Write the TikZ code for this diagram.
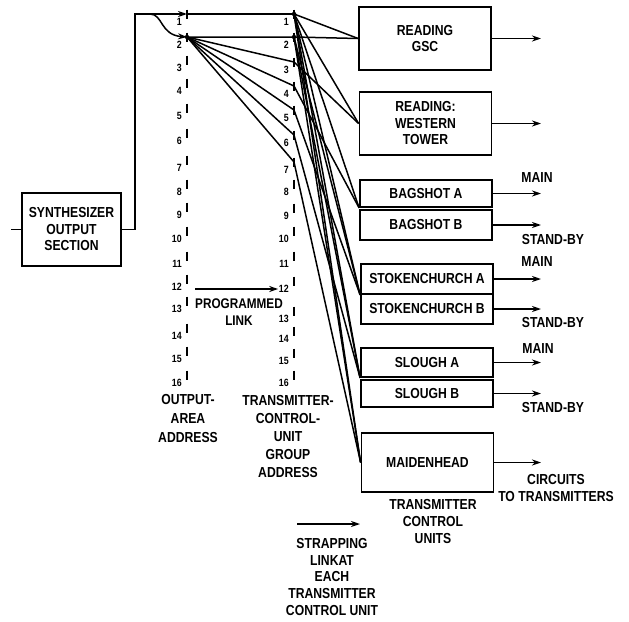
\documentclass[tikz,border=0pt]{standalone}
\usepackage{fontspec}
\setmainfont{Liberation Sans}[FakeStretch=0.84]
\usetikzlibrary{arrows.meta}
\begin{document}
\begin{tikzpicture}[x=1pt,y=-1pt,line width=1.5pt,
  lbl/.style={font=\bfseries\fontsize{14.5}{17}\selectfont,align=center,inner sep=0pt},
  num/.style={font=\bfseries\fontsize{10.5}{11}\selectfont,inner sep=0pt,anchor=east},
  box/.style={draw,line width=1.8pt,minimum width=132pt,inner sep=0pt,font=\bfseries\fontsize{14.5}{16.5}\selectfont,align=center},
  arr/.style={-{Stealth[length=9pt,width=6pt]}},
  blob/.style={circle,fill,inner sep=0pt,minimum size=4.5pt}]
\useasboundingbox (0,0) rectangle (629,621);

% synthesizer
\node[box,minimum width=99pt,minimum height=73pt] (syn) at (71.5,229.5) {SYNTHESIZER\\OUTPUT\\SECTION};
\coordinate (inL) at (11,229.5);
\coordinate (bendB) at (135,14);
\coordinate (wav) at (150,14);
\draw (inL) -- (syn.west);

% columns
\foreach \i/\ly/\ry in {1/22/22,2/45/45,3/68/70,4/91/94,5/116/118,6/141/143,7/168/170,8/192/192,9/215/216,10/239/239,11/264/264,12/287/289,13/309/319,14/336/339,15/359/361,16/383/383}{
  \node[num] (ln\i) at (182.5,\ly) {\i};
  \node[num] (rn\i) at (289.5,\ry) {\i};
  \coordinate (L\i) at (187,\ly-8);
  \coordinate (R\i) at (294,\ry-8);
  \draw ([yshift=4.5pt]L\i) -- ([yshift=-4.5pt]L\i);
  \draw ([yshift=4.5pt]R\i) -- ([yshift=-4.5pt]R\i);
}

% inputs to output area
\draw[arr] (syn.east) -| (bendB) -- (L1);
\draw[arr] (wav) .. controls (163,14) and (160,35) .. (L2);
\draw (L1) -- (R1);

% boxes
\node[box,minimum height=63pt] (gsc) at (425,38.5) {READING\\GSC};
\node[box,minimum height=63pt] (west) at (425.5,123.5) {READING:\\WESTERN\\TOWER};
\node[box,minimum height=27pt] (bagA) at (426,193.5) {BAGSHOT A};
\node[box,minimum height=30pt] (bagB) at (426,225) {BAGSHOT B};
\node[box,minimum height=30pt] (stoA) at (427,279) {STOKENCHURCH A};
\node[box,minimum height=30pt] (stoB) at (427,309) {STOKENCHURCH B};
\node[box,minimum height=29pt] (sloA) at (427,362.5) {SLOUGH A};
\node[box,minimum height=27pt] (sloB) at (427,393.5) {SLOUGH B};
\node[box,minimum height=59pt] (maid) at (427.5,462.5) {MAIDENHEAD};

\draw (L2) -- (R2) -- (gsc.west);

% programmed links
\foreach \j in {3,...,7}{\draw (L2) -- (R\j);}
% strapping links
\foreach \t in {gsc.west,west.west,bagA.south west,stoA.south west,sloA.south west,maid.west}{\draw (R1) -- (\t);}
\foreach \t in {stoA.south west,sloA.south west,maid.west}{\draw (R2) -- (\t);}
\draw (R3) -- (west.west);
\draw (R4) -- (bagA.south west);
\draw (R5) -- (stoA.south west);
\draw (R6) -- (sloA.south west);
\draw (R7) -- (maid.west);

\node[blob] at (L2) {};
\node[blob] at (R1) {};
\node[blob] at (R2) {};

% outputs
\foreach \b/\yy in {gsc/38.5,west/123.5,bagA/193.5,bagB/225,stoA/279,stoB/309,sloA/362.5,sloB/393.5,maid/462.5}{
  \coordinate (o\b) at (541,\yy);
  \draw[arr] (\b.east) -- (o\b);
}

\node[lbl] (m1) at (537,178) {MAIN};
\node[lbl] (s1) at (553,240) {STAND-BY};
\node[lbl] (m2) at (537,262) {MAIN};
\node[lbl] (s2) at (553,323) {STAND-BY};
\node[lbl] (m3) at (538,349) {MAIN};
\node[lbl] (s3) at (553,408) {STAND-BY};
\node[lbl] (circ) at (556,488) {CIRCUITS\\TO TRANSMITTERS};

% programmed link
\coordinate (pA) at (195,289);
\draw[arr] (pA) -- (rn12.west);
\node[lbl,font=\bfseries\fontsize{14}{17}\selectfont] (plab) at (239,312) {PROGRAMMED\\LINK};

% column labels
\node[lbl,font=\bfseries\fontsize{14.5}{19}\selectfont] (oaa) at (188,419) {OUTPUT-\\AREA\\ADDRESS};
\node[lbl,font=\bfseries\fontsize{14.5}{18.2}\selectfont] (tcu) at (288,436.5) {TRANSMITTER-\\CONTROL-\\UNIT\\GROUP\\ADDRESS};
\node[lbl] (tcus) at (433,522) {TRANSMITTER\\CONTROL\\UNITS};

% strapping link legend
\coordinate (sA) at (297,524);
\coordinate (sB) at (360,524);
\draw[arr] (sA) -- (sB);
\node[lbl,font=\bfseries\fontsize{14.5}{16.7}\selectfont] (strap) at (332,577) {STRAPPING\\LINKAT\\EACH\\TRANSMITTER\\CONTROL UNIT};
\end{tikzpicture}
\end{document}
